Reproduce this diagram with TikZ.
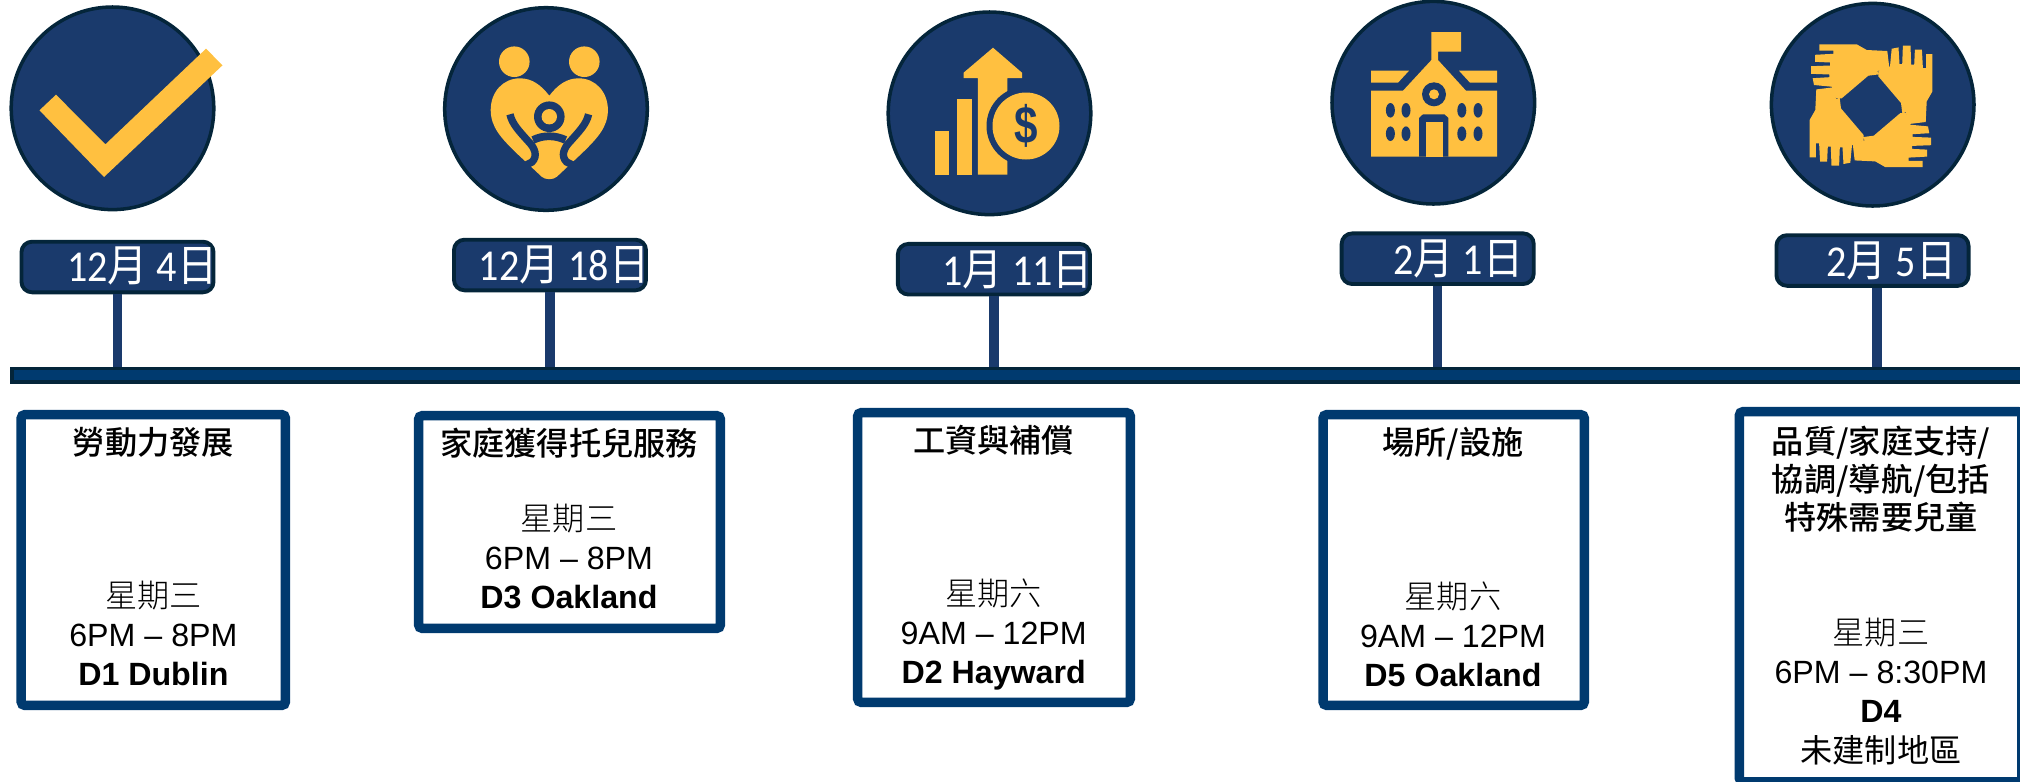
\documentclass[tikz,border=0pt]{standalone}
\usepackage{fontspec}
\setmainfont{Liberation Sans}
\newfontfamily\cjk{Noto Sans CJK TC}
\newfontfamily\cjkthin{Noto Sans CJK TC Light}
\newfontfamily\cjkmid{Noto Sans CJK TC Medium}
\newfontfamily\datefont{Carlito}
\definecolor{NAVY}{HTML}{1A3A6C}
\definecolor{DARK}{HTML}{04253A}
\definecolor{BARBLUE}{HTML}{003A6F}
\definecolor{GOLD}{HTML}{FFC040}
\newcommand{\dateline}[1]{\scalebox{1}[1.1]{\datefont #1}}
\newcommand{\yue}{{\cjk 月}}
\newcommand{\ri}{{\cjk 日}}
\newcommand{\handshape}{
    \fill[GOLD] (1819.3,44.3) -- (1856.7,44.3) -- (1866.7,50) -- (1887.3,51) -- (1889.3,67.7) -- (1877.3,71) -- (1879.3,74.3) -- (1868.3,75.7) -- (1841.7,98.3) -- (1836,98.3) -- (1833.3,93.3) -- (1831.7,86.7) -- (1814,85) -- (1812.7,78.2) -- (1829.3,77.2) -- (1829.3,74.5) -- (1811,73.8) -- (1811,66.2) -- (1830,65.5) -- (1830,62.5) -- (1815,61.8) -- (1815,54.8) -- (1833.3,53.8) -- (1833.3,50.5) -- (1819.3,50.5) -- cycle;
}
\tikzset{
    badge/.style={circle, draw=DARK, fill=NAVY, line width=1pt, minimum size=2.025cm, inner sep=0pt},
    datebox/.style={rectangle, rounded corners=3pt, draw=DARK, fill=NAVY, line width=1.1pt, minimum width=1.92cm, minimum height=0.506cm, inner sep=0pt},
    datetext/.style={anchor=base east, text=white, inner sep=0pt, font=\fontsize{11.4}{13}\selectfont},
    stem/.style={NAVY, line width=2.7pt},
    track/.style={rectangle, anchor=west, draw=DARK, fill=BARBLUE, line width=1pt, minimum width=21cm, minimum height=0.135cm, inner sep=0pt},
    infobox/.style={rectangle, rounded corners=1pt, draw=BARBLUE, line width=2.7pt, inner sep=0pt},
    titletext/.style={align=center, inner sep=0pt, font=\fontsize{9.15}{10.8}\selectfont\cjkmid},
    infotext/.style={align=center, inner sep=0pt, font=\fontsize{9.15}{11.1}\selectfont},
    armline/.style={NAVY, line width=2.1pt}
}
\begin{document}
\begin{tikzpicture}[x=0.01cm, y=-0.01cm]
    \useasboundingbox (0,0) rectangle (2020,781);
    \clip (0,0) rectangle (2020,781);

    \node[badge] (circA) at (112.5,108.3) {};
    \node[badge] (circB) at (546,109) {};
    \node[badge] (circC) at (989.5,113.3) {};
    \node[badge] (circD) at (1433.3,102.7) {};
    \node[badge] (circE) at (1872.7,104.7) {};

    \fill[GOLD] (206,48.7) -- (222.5,65.3) -- (104,177) -- (39.5,110.3) -- (56,94.7) -- (105.4,144.3) -- cycle;

    \fill[GOLD] (514.3,61.7) circle (15.3);
    \fill[GOLD] (584.3,61.7) circle (15.3);
    \fill[GOLD] (549.3,95.7) .. controls (541,85) and (532,78.3) .. (520,78.3) .. controls (503,78.3) and (490.7,92) .. (490.7,110) .. controls (490.7,127) and (501,138) .. (516.7,153.3) -- (541.7,176.7) .. controls (545,180) and (553.6,180) .. (556.9,176.7) -- (581.9,153.3) .. controls (597.6,138) and (607.9,127) .. (607.9,110) .. controls (607.9,92) and (595.6,78.3) .. (578.6,78.3) .. controls (566.6,78.3) and (557.6,85) .. (549.3,95.7) -- cycle;
    \draw[armline] (510,114.3) .. controls (512,124) and (520,132) .. (528,141) .. controls (535,148) and (538,156) .. (532,162) -- (524,166);
    \draw[armline] (588.6,114.3) .. controls (586.6,124) and (578.6,132) .. (570.6,141) .. controls (563.6,148) and (560.6,156) .. (566.6,162) -- (574.6,166);
    \draw[NAVY, line width=2.2pt] (533,140) .. controls (543,135) and (555,135) .. (565.6,140);
    \fill[NAVY] (549.3,116.7) circle (15.3);
    \fill[GOLD] (549.3,116.7) circle (7.7);

    \fill[GOLD] (935,130.7) rectangle (949.3,174.7);
    \fill[GOLD] (957.3,99.3) rectangle (972,174.7);
    \fill[GOLD] (993,47.7) -- (1022,72.7) -- (1022,78) -- (1007.3,78) -- (1007.3,174.7) -- (977.9,174.7) -- (977.9,78) -- (963.6,78) -- (963.6,72.7) -- cycle;
    \fill[NAVY] (1026,126) circle (39.5);
    \fill[GOLD] (1026,126) circle (33.5);
    \node[text=NAVY, inner sep=0pt, xscale=0.8, font=\fontsize{15}{15}\selectfont\bfseries] (dollar) at (1026,126) {\$};

    \fill[GOLD] (1371,156.7) -- (1371,90.7) -- (1403,90.7) -- (1431.4,60) -- (1431.4,32) -- (1461,32) -- (1461,51.7) -- (1438,51.7) -- (1438,60) -- (1466,90.7) -- (1497,90.7) -- (1497,156.7) -- cycle;
    \fill[GOLD] (1371,70.7) -- (1409,70.7) -- (1398,82.7) -- (1371,82.7) -- cycle;
    \fill[GOLD] (1497,70.7) -- (1459,70.7) -- (1470,82.7) -- (1497,82.7) -- cycle;
    \fill[NAVY] (1434,94.3) circle (12);
    \fill[GOLD] (1434,94.3) circle (5);
    \fill[NAVY] (1390.4,110.3) ellipse (4.5 and 7.3);
    \fill[NAVY] (1406,110.3) ellipse (4.5 and 7.3);
    \fill[NAVY] (1461.8,110.3) ellipse (4.5 and 7.3);
    \fill[NAVY] (1478,110.3) ellipse (4.5 and 7.3);
    \fill[NAVY] (1390.4,133.7) ellipse (4.5 and 7.3);
    \fill[NAVY] (1406,133.7) ellipse (4.5 and 7.3);
    \fill[NAVY] (1461.8,133.7) ellipse (4.5 and 7.3);
    \fill[NAVY] (1478,133.7) ellipse (4.5 and 7.3);
    \fill[NAVY] (1419,156.7) -- (1419,118) -- (1423,114.3) -- (1444.4,114.3) -- (1448.4,118) -- (1448.4,156.7) -- cycle;
    \fill[GOLD] (1426,121.7) rectangle (1442.6,156.7);

    \handshape
    \begin{scope}[rotate around={90:(1871,105.7)}]
        \handshape
    \end{scope}
    \begin{scope}[rotate around={180:(1871,105.7)}]
        \handshape
    \end{scope}
    \begin{scope}[rotate around={270:(1871,105.7)}]
        \handshape
    \end{scope}

    \node[datebox] (dateA) at (117.5,267) {};
    \node[datebox] (dateB) at (550,265) {};
    \node[datebox] (dateC) at (993.9,269.2) {};
    \node[datebox] (dateD) at (1437.7,258.7) {};
    \node[datebox] (dateE) at (1872.5,260.5) {};
    \node[datetext] (labelA) at (218,281.7) {\dateline{12\yue{} 4\ri}};
    \node[datetext] (labelB) at (650,280) {\dateline{12\yue{} 18\ri}};
    \node[datetext] (labelC) at (1093.5,285) {\dateline{1\yue{} 11\ri}};
    \node[datetext] (labelD) at (1524,274) {\dateline{2\yue{} 1\ri}};
    \node[datetext] (labelE) at (1957,276) {\dateline{2\yue{} 5\ri}};

    \node[track] (bar) at (10.3,375.3) {};
    \coordinate (stemE) at (1877,288);
    \draw[stem] (dateA.south) -- (dateA.south |- bar.north);
    \draw[stem] (dateB.south) -- (dateB.south |- bar.north);
    \draw[stem] (dateC.south) -- (dateC.south |- bar.north);
    \draw[stem] (dateD.south) -- (dateD.south |- bar.north);
    \draw[stem] (stemE) -- (stemE |- bar.north);

    \node[infobox, minimum width=2.64cm, minimum height=2.905cm] (boxA) at (153.3,560) {};
    \node[infobox, minimum width=3.015cm, minimum height=2.125cm] (boxB) at (569.5,522) {};
    \node[infobox, minimum width=2.724cm, minimum height=2.895cm] (boxC) at (994,557.5) {};
    \node[infobox, minimum width=2.61cm, minimum height=2.905cm] (boxD) at (1453.7,560) {};
    \node[infobox, minimum width=2.822cm, minimum height=3.699cm] (boxE) at (1880.6,596.75) {};

    \node[titletext] (titleA) at (153.4,442.7) {勞動力發展};
    \node[titletext] (titleB) at (569,443.3) {家庭獲得托兒服務};
    \node[titletext] (titleC) at (993.7,440.5) {工資與補償};
    \node[titletext] (titleD) at (1453,443.7) {場所/設施};
    \node[titletext] (titleE) at (1881,479.5) {品質/家庭支持/\\協調/導航/包括\\特殊需要兒童};

    \node[infotext] (infoA) at (153.4,633.2) {{\cjkthin 星期三}\\6PM – 8PM\\\textbf{D1 Dublin}};
    \node[infotext] (infoB) at (569,556.8) {{\cjkthin 星期三}\\6PM – 8PM\\\textbf{D3 Oakland}};
    \node[infotext] (infoC) at (993.7,634.5) {{\cjkthin 星期六}\\9AM – 12PM\\\textbf{D2 Hayward}};
    \node[infotext] (infoD) at (1453,634.2) {{\cjkthin 星期六}\\9AM – 12PM\\\textbf{D5 Oakland}};
    \node[infotext] (infoE) at (1881,691.5) {{\cjkthin 星期三}\\6PM – 8:30PM\\\textbf{D4}\\{\cjk 未建制地區}};
\end{tikzpicture}
\end{document}
